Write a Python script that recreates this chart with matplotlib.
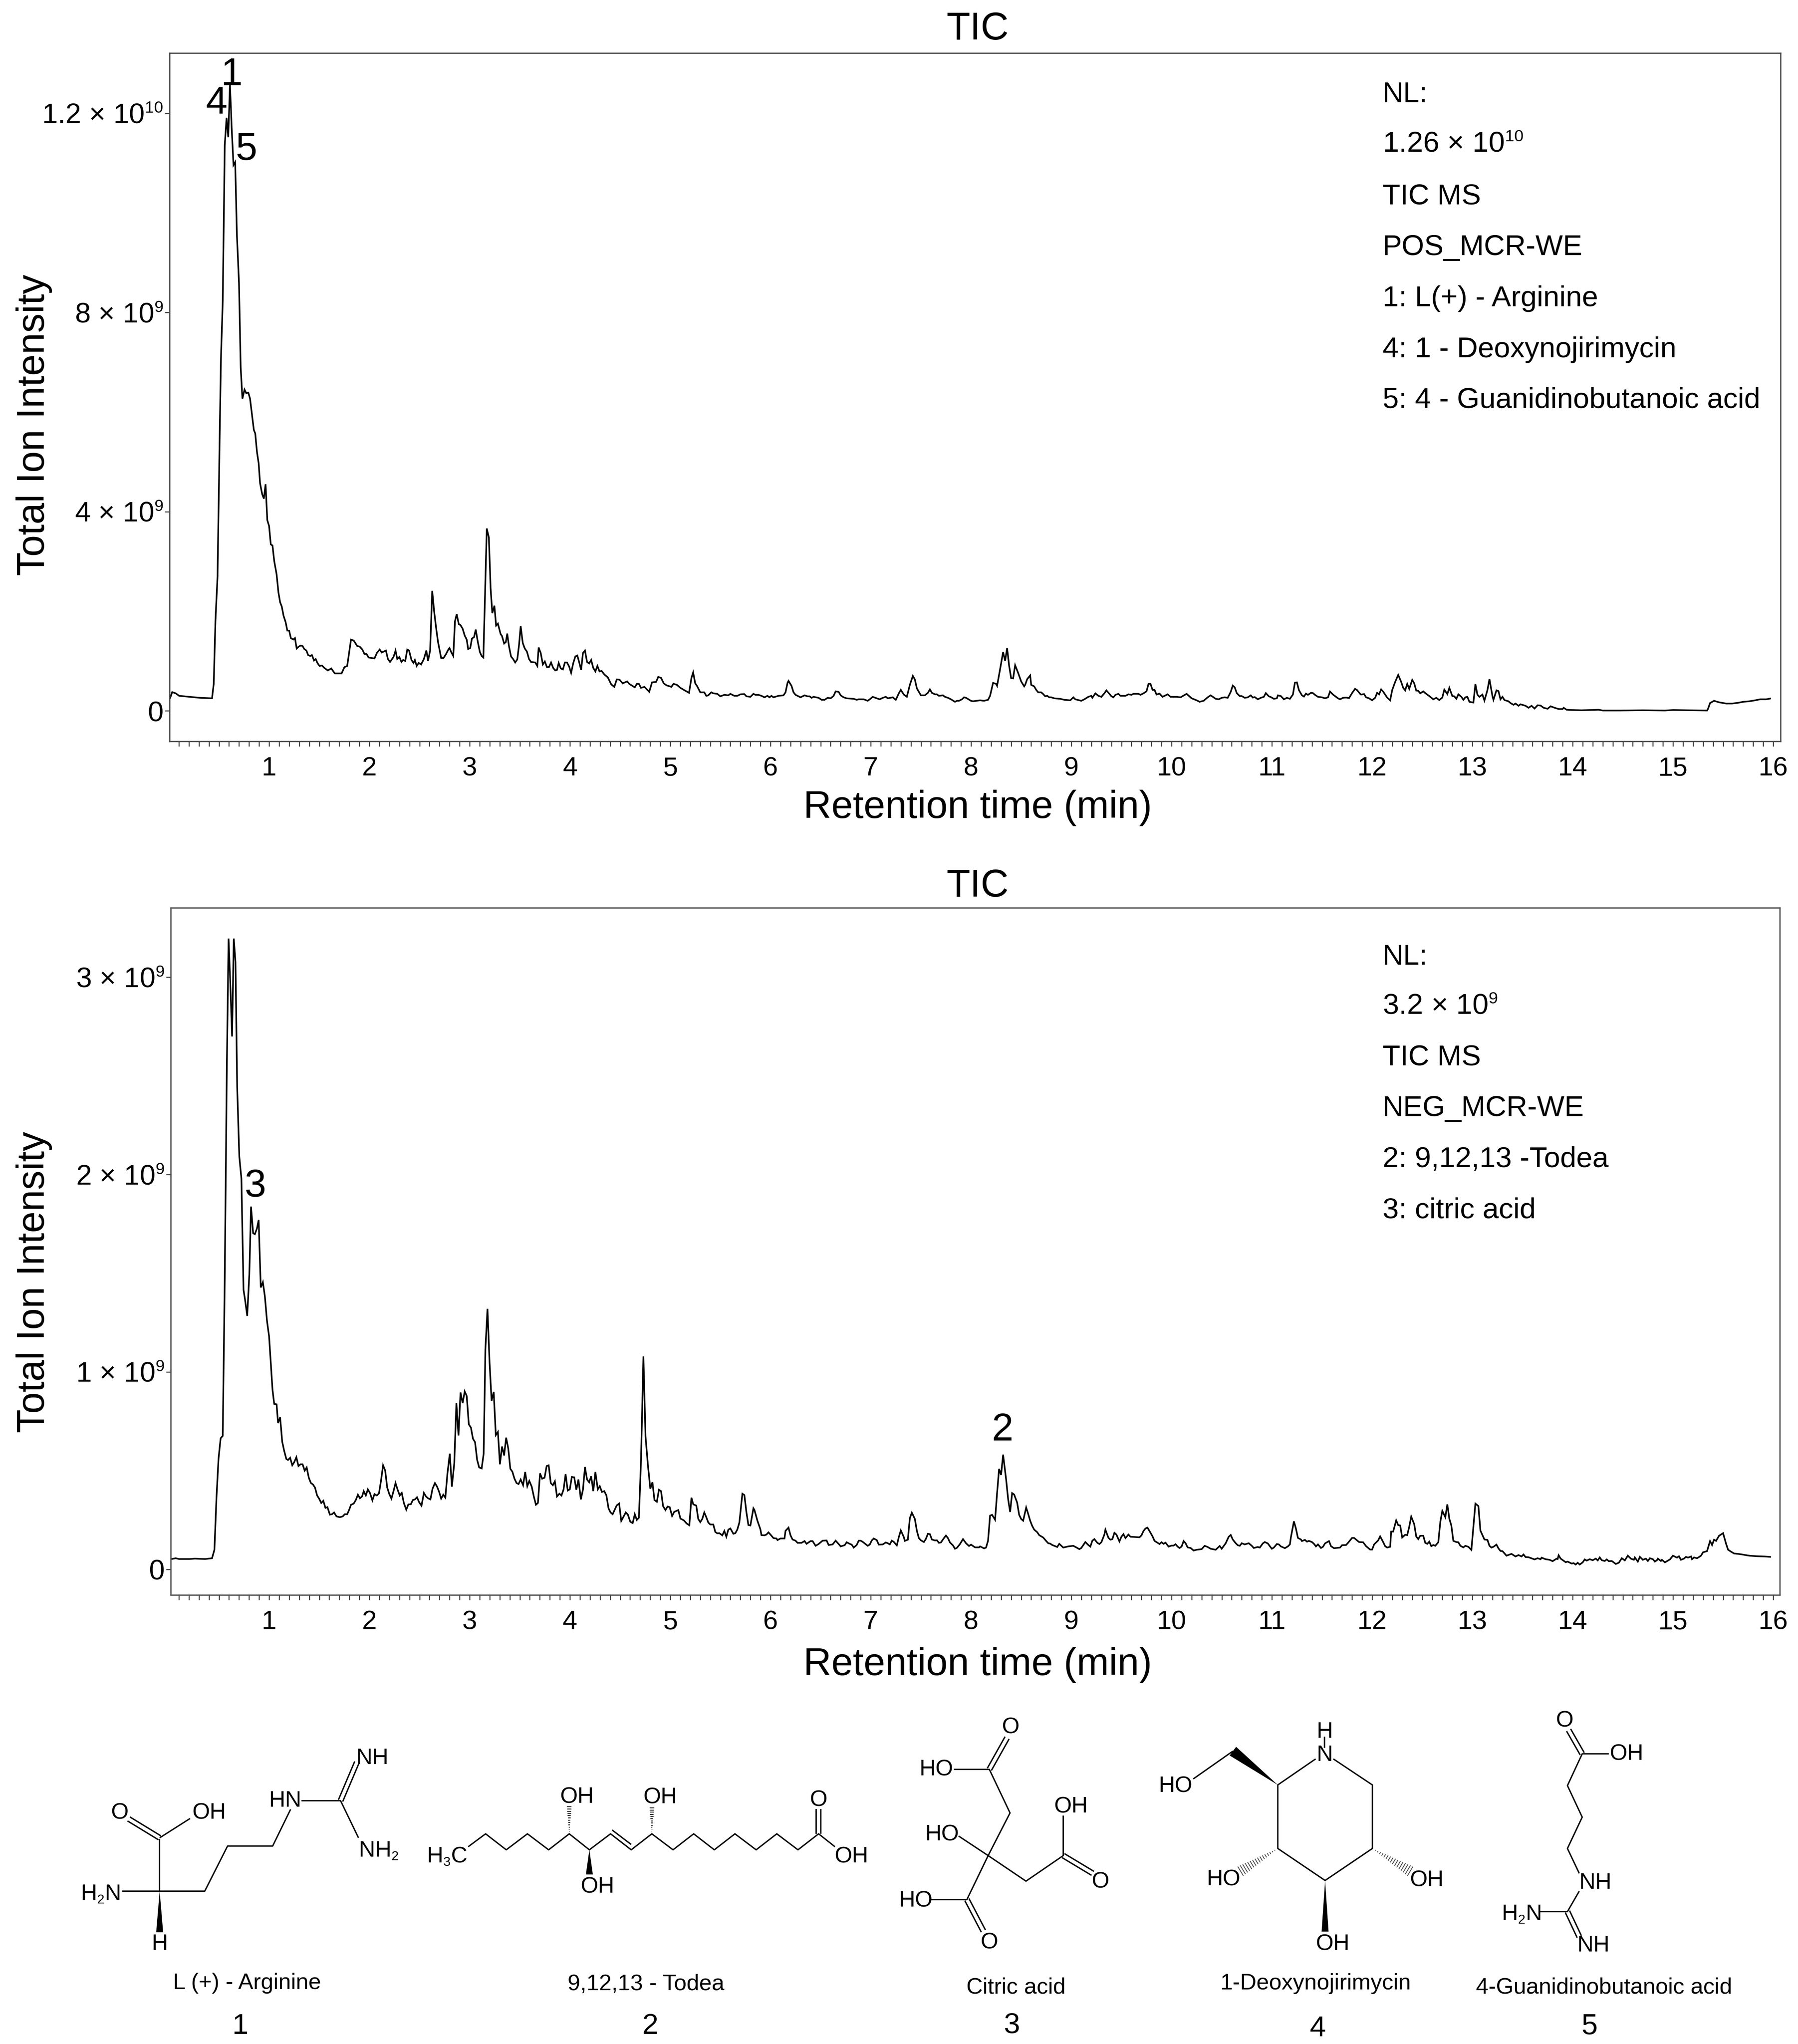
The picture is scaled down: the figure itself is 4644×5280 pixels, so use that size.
import numpy as np
import matplotlib
matplotlib.use('Agg')
import matplotlib.pyplot as plt
import matplotlib._mathtext as mathtext_internals
from matplotlib.patches import Polygon
from matplotlib.ticker import MultipleLocator

plt.rcParams['font.family'] = ['Liberation Sans', 'DejaVu Sans']
plt.rcParams['mathtext.fontset'] = 'custom'
plt.rcParams['mathtext.rm'] = 'Liberation Sans'
plt.rcParams['mathtext.default'] = 'regular'
# Superindices mas pequenos, como en la figura original
mathtext_internals.SHRINK_FACTOR = 0.58

# Trace values: (retention time in min, intensity in 1e9)
top_early = [(.014,.26),(.034,.375),(.069,.35),(.103,.30),(.207,.28),(.310,.26),(.431,.25),(.448,.54),(.465,1.80),(.486,2.70),(.507,5.46),(.520,7.07),(.538,8.23),(.558,11.36),(.576,11.91),(.593,11.52),(.610,12.59),(.627,11.71),(.645,10.96),(.662,11.02),(.679,9.57),(.700,8.59),(.717,6.89),(.734,6.27),(.755,6.45),(.772,6.38),(.793,6.39),(.810,6.27),(.848,5.64),(.862,5.57),(.879,5.20),(.896,4.97),(.910,4.57),(.931,4.35),(.948,4.26),(.965,4.55),(.982,3.83),(1.000,3.71),(1.017,3.34),(1.034,3.32),(1.051,3.01),(1.075,2.74),(1.093,2.38),(1.110,2.18),(1.127,2.09),(1.144,1.91),(1.165,1.78),(1.182,1.61),(1.200,1.61),(1.217,1.46),(1.241,1.43),(1.258,1.46),(1.275,1.25),(1.296,1.29),(1.317,1.31),(1.334,1.30),(1.351,1.24),(1.372,1.21),(1.389,1.12),(1.410,1.10),(1.427,1.12),(1.448,1.01),(1.465,1.04),(1.482,.96),(1.503,.90),(1.527,.91),(1.551,.86),(1.586,.81),(1.620,.85),(1.655,.75),(1.723,.75),(1.751,.875),(1.779,.90),(1.817,1.43),(1.844,1.41),(1.879,1.30),(1.903,1.29),(1.930,1.23),(1.951,1.14),(1.972,1.14),(1.992,1.07),(2.051,1.05),(2.075,1.16),(2.103,1.23),(2.123,1.17),(2.165,1.21),(2.185,1.04),(2.206,.98),(2.241,1.08),(2.261,1.21),(2.278,1.04),(2.299,1.08),(2.320,.98),(2.337,1.02),(2.358,1.00),(2.378,1.23),(2.396,1.21),(2.420,1.02),(2.440,.96),(2.454,1.02),(2.472,.90),(2.492,.96),(2.516,.93),(2.544,1.04),(2.568,1.21),(2.585,1.00),(2.606,1.21),(2.627,2.41),(2.647,1.98),(2.668,1.63),(2.685,1.38),(2.716,1.06),(2.740,1.06),(2.765,1.14),(2.785,1.22),(2.799,1.26),(2.816,1.18),(2.837,1.10),(2.854,1.80),(2.871,1.94),(2.892,1.74),(2.909,1.72),(2.930,1.65),(2.951,1.51),(2.971,1.43),(2.985,1.24),(3.006,1.26),(3.023,1.45),(3.044,1.48),(3.061,1.63),(3.082,1.38),(3.102,1.18),(3.120,1.10),(3.137,1.07),(3.171,3.66),(3.192,3.48),(3.209,2.47),(3.226,1.96),(3.247,2.11),(3.264,1.71),(3.282,1.75),(3.309,1.54),(3.323,1.50),(3.344,1.35),(3.361,1.38),(3.375,1.55),(3.392,1.30),(3.413,1.09),(3.433,1.04),(3.454,.97),(3.475,1.03),(3.492,1.31),(3.509,1.70),(3.530,1.36),(3.550,1.25),(3.571,1.19),(3.592,1.04),(3.612,.98),(3.654,.97),(3.675,.90),(3.688,1.27),(3.709,1.16),(3.730,.93),(3.750,.99),(3.771,.875),(3.792,.88),(3.812,.97),(3.833,.86),(3.854,.81),(3.871,.82),(3.888,.96),(3.909,.85),(3.930,.83),(3.950,.97),(3.971,.97),(3.992,.89),(4.012,.76),(4.033,.955),(4.054,1.09),(4.074,1.11),(4.095,.955),(4.112,.82),(4.130,1.16),(4.150,1.21),(4.171,.98),(4.192,.95),(4.212,1.02),(4.233,.86),(4.254,.79),(4.274,.90),(4.295,.79),(4.316,.80),(4.343,.73),(4.378,.67),(4.412,.53),(4.443,.48),(4.467,.63),(4.495,.625),(4.526,.55),(4.571,.59),(4.592,.54),(4.647,.47),(4.667,.54),(4.688,.54),(4.709,.46),(4.743,.48),(4.791,.38),(4.819,.57),(4.860,.58),(4.881,.68),(4.909,.66),(4.936,.55),(4.964,.51),(5.012,.48),(5.033,.54),(5.067,.52),(5.102,.46),(5.153,.40),(5.188,.36),(5.212,.66),(5.229,.77)]
top_mid = [(5.25,.55),(5.27,.49),(5.30,.37),(5.34,.37),(5.36,.30),(5.38,.31),(5.41,.37),(5.43,.35),(5.47,.34),(5.50,.29),(5.54,.32),(5.58,.31),(5.60,.34),(5.64,.30),(5.67,.30),(5.70,.33),(5.74,.335),(5.76,.29),(5.80,.28),(5.83,.34),(5.85,.32),(5.88,.32),(5.91,.30),(5.94,.27),(5.97,.30),(5.99,.27),(6.01,.30),(6.03,.27),(6.08,.30),(6.13,.31),(6.15,.37),(6.17,.56),(6.18,.60),(6.21,.50),(6.23,.37),(6.25,.32),(6.30,.27),(6.34,.31),(6.37,.29),(6.39,.29),(6.41,.26),(6.43,.28),(6.48,.26),(6.51,.22),(6.54,.22),(6.57,.26),(6.60,.25),(6.63,.30),(6.65,.39),(6.68,.38),(6.70,.31),(6.73,.27),(6.76,.25),(6.83,.24),(6.86,.22),(6.88,.23),(6.93,.23),(6.97,.20),(6.99,.23),(7.02,.28),(7.06,.25),(7.09,.23),(7.12,.26),(7.15,.28),(7.17,.25),(7.22,.27),(7.25,.22),(7.28,.35),(7.30,.42),(7.33,.325),(7.36,.28),(7.39,.52),(7.42,.70),(7.44,.63),(7.46,.45),(7.50,.31),(7.54,.31),(7.57,.36),(7.59,.43),(7.61,.36),(7.64,.33),(7.66,.33),(7.68,.30),(7.72,.31),(7.74,.28),(7.77,.26),(7.80,.23),(7.84,.18),(7.86,.20),(7.88,.20),(7.91,.23),(7.93,.27),(7.95,.26),(8.00,.20),(8.02,.19),(8.09,.21),(8.13,.20),(8.17,.22),(8.19,.30),(8.22,.56),(8.25,.54),(8.26,.50),(8.29,.835),(8.32,1.18),(8.34,1.00),(8.36,1.26),(8.38,.905),(8.40,.655),(8.42,.65),(8.44,.915),(8.47,.76),(8.50,.59),(8.53,.49),(8.54,.52),(8.56,.635),(8.59,.71),(8.60,.52),(8.63,.49),(8.65,.42),(8.67,.37),(8.70,.37),(8.72,.335),(8.74,.29),(8.76,.30),(8.78,.27),(8.80,.27),(8.83,.25),(8.89,.24),(8.93,.22),(8.99,.21),(9.02,.27),(9.04,.23),(9.10,.20),(9.13,.23),(9.17,.28),(9.20,.30),(9.21,.26),(9.24,.35),(9.27,.30),(9.30,.28),(9.33,.35),(9.35,.41),(9.38,.34),(9.40,.29),(9.42,.27),(9.44,.32),(9.47,.34),(9.49,.30),(9.54,.30),(9.57,.33),(9.60,.32),(9.62,.34),(9.67,.34),(9.69,.32),(9.72,.35),(9.75,.39),(9.77,.54),(9.79,.54),(9.81,.42),(9.83,.42),(9.85,.325),(9.88,.345),(9.91,.28),(9.94,.31),(9.96,.33),(9.99,.28),(10.05,.28),(10.09,.27),(10.15,.34),(10.20,.25),(10.25,.21),(10.28,.18),(10.32,.20),(10.36,.27),(10.39,.31),(10.44,.24),(10.47,.23),(10.50,.26),(10.53,.27),(10.56,.26),(10.59,.38),(10.61,.505)]
top_late = [(10.63,.47),(10.65,.355),(10.68,.295),(10.70,.295),(10.73,.26),(10.76,.27),(10.79,.31),(10.81,.265),(10.83,.275),(10.86,.23),(10.89,.26),(10.92,.28),(10.94,.355),(10.97,.29),(10.99,.275),(11.02,.24),(11.05,.25),(11.06,.31),(11.09,.295),(11.12,.23),(11.15,.26),(11.18,.24),(11.21,.325),(11.23,.565),(11.25,.57),(11.27,.415),(11.30,.31),(11.32,.285),(11.34,.345),(11.36,.32),(11.39,.36),(11.41,.355),(11.43,.32),(11.46,.28),(11.50,.27),(11.53,.25),(11.56,.27),(11.58,.385),(11.61,.325),(11.63,.295),(11.66,.25),(11.68,.23),(11.71,.26),(11.74,.265),(11.77,.255),(11.80,.355),(11.83,.44),(11.85,.415),(11.88,.34),(11.89,.325),(11.92,.335),(11.94,.27),(11.97,.25),(12.00,.21),(12.03,.26),(12.05,.36),(12.07,.33),(12.09,.43),(12.11,.385),(12.15,.265),(12.18,.21),(12.20,.415),(12.23,.58),(12.26,.72),(12.29,.58),(12.31,.46),(12.33,.41),(12.35,.54),(12.37,.44),(12.40,.62),(12.42,.55),(12.44,.405),(12.46,.40),(12.48,.35),(12.51,.39),(12.53,.355),(12.57,.295),(12.61,.23),(12.64,.26),(12.67,.215),(12.70,.265),(12.72,.425),(12.75,.335),(12.77,.46),(12.80,.295),(12.82,.29),(12.84,.24),(12.86,.33),(12.89,.28),(12.91,.22),(12.93,.27),(12.95,.28),(12.97,.18),(13.01,.165),(13.03,.535),(13.05,.325),(13.07,.28),(13.10,.325),(13.12,.205),(13.15,.415),(13.17,.635),(13.20,.295),(13.21,.22),(13.24,.41),(13.26,.395),(13.28,.23),(13.30,.28),(13.32,.215),(13.36,.19),(13.38,.155),(13.41,.12),(13.43,.145),(13.46,.10),(13.48,.13),(13.53,.10),(13.56,.06),(13.59,.10),(13.62,.045),(13.65,.11),(13.68,.105),(13.71,.06),(13.75,.04),(13.78,.09),(13.82,.06),(13.86,.035),(13.90,.035),(13.91,.06),(13.94,.02),(13.99,.015),(14.09,.01),(14.26,.02),(14.30,.005),(14.47,.005),(14.70,.01),(14.92,.005),(15.00,.015),(15.15,.01),(15.34,.005),(15.35,.04),(15.37,.155),(15.41,.20),(15.46,.17),(15.53,.145),(15.59,.145),(15.65,.16),(15.70,.18),(15.76,.19),(15.82,.21),(15.87,.23),(15.93,.23),(15.97,.245)]

bottom_early = [(.028,.052),(.069,.056),(.103,.052),(.207,.052),(.259,.054),(.362,.052),(.431,.056),(.455,.099),(.476,.369),(.496,.561),(.517,.664),(.538,.676),(.558,1.473),(.579,2.554),(.596,3.196),(.614,2.959),(.631,2.700),(.648,3.196),(.665,3.077),(.682,2.441),(.703,2.092),(.724,1.980),(.745,1.417),(.762,1.360),(.782,1.284),(.803,1.495),(.820,1.838),(.841,1.703),(.858,1.698),(.879,1.727),(.896,1.770),(.917,1.428),(.938,1.455),(.958,1.383),(.979,1.259),(1.000,1.180),(1.017,1.045),(1.034,.910),(1.051,.838),(1.075,.836),(1.089,.741),(1.110,.770),(1.131,.646),(1.151,.599),(1.172,.559),(1.189,.554),(1.210,.565),(1.231,.527),(1.251,.543),(1.272,.568),(1.293,.523),(1.313,.532),(1.334,.532),(1.355,.500),(1.375,.516),(1.396,.464),(1.417,.437),(1.437,.430),(1.458,.414),(1.479,.374),(1.499,.358),(1.520,.336),(1.541,.347),(1.562,.311),(1.582,.315),(1.606,.277),(1.627,.279),(1.648,.288),(1.672,.268),(1.706,.264),(1.734,.268),(1.755,.279),(1.779,.279),(1.799,.302),(1.817,.327),(1.844,.333),(1.865,.351),(1.886,.378),(1.906,.360),(1.927,.369),(1.944,.396),(1.965,.374),(1.985,.405),(2.006,.387),(2.030,.349),(2.051,.381),(2.075,.374),(2.096,.385),(2.116,.448),(2.137,.527),(2.158,.500),(2.178,.414),(2.199,.381),(2.220,.358),(2.241,.396),(2.261,.437),(2.282,.403),(2.303,.374),(2.323,.387),(2.344,.336),(2.368,.302),(2.389,.329),(2.413,.329),(2.434,.351),(2.454,.354),(2.475,.365),(2.496,.340),(2.520,.322),(2.544,.387),(2.565,.369),(2.585,.360),(2.609,.354),(2.630,.408),(2.654,.437),(2.675,.419),(2.696,.392),(2.716,.358),(2.737,.378),(2.758,.363),(2.778,.482),(2.802,.586),(2.823,.419),(2.847,.538),(2.868,.842),(2.889,.678),(2.909,.896),(2.930,.842),(2.951,.901),(2.971,.878),(2.992,.734),(3.013,.718),(3.033,.662),(3.054,.644),(3.075,.554),(3.095,.516),(3.120,.511),(3.140,.586),(3.157,1.113),(3.178,1.320),(3.199,1.045),(3.219,.854),(3.240,.899),(3.261,.680),(3.282,.696),(3.302,.532),(3.323,.622),(3.344,.577),(3.364,.667),(3.385,.613),(3.406,.509),(3.426,.495),(3.447,.459),(3.468,.437),(3.488,.432),(3.509,.455),(3.533,.426),(3.554,.493),(3.575,.421),(3.595,.448),(3.619,.419),(3.640,.369),(3.661,.327),(3.681,.336),(3.702,.486),(3.723,.459),(3.747,.464),(3.768,.523),(3.788,.527),(3.809,.437),(3.830,.426),(3.850,.446),(3.871,.369),(3.895,.383),(3.916,.374),(3.937,.405),(3.957,.482),(3.978,.399),(3.999,.405),(4.019,.468),(4.043,.466),(4.064,.403),(4.085,.455),(4.109,.354),(4.130,.403),(4.150,.518),(4.171,.455),(4.192,.441),(4.212,.471),(4.233,.396),(4.254,.493),(4.278,.405),(4.298,.421),(4.319,.392),(4.343,.396),(4.364,.374),(4.385,.309),(4.405,.288),(4.426,.279),(4.447,.302),(4.467,.324),(4.491,.333),(4.512,.245),(4.536,.268),(4.557,.288),(4.578,.277),(4.602,.241),(4.626,.234),(4.647,.279),(4.667,.250),(4.688,.261),(4.709,.550),(4.733,1.079),(4.754,.673),(4.778,.527),(4.802,.408),(4.823,.441),(4.843,.351),(4.867,.342),(4.888,.403),(4.909,.396),(4.929,.320),(4.953,.300),(4.974,.318),(4.995,.315),(5.019,.270),(5.040,.291),(5.081,.300),(5.102,.257),(5.136,.248),(5.164,.232),(5.191,.223),(5.212,.363)]
bottom_mid = [(5.23,.329),(5.26,.323),(5.28,.255),(5.30,.239),(5.32,.255),(5.34,.288),(5.36,.264),(5.38,.237),(5.40,.227),(5.43,.227),(5.45,.189),(5.47,.182),(5.49,.183),(5.52,.172),(5.54,.194),(5.56,.165),(5.58,.201),(5.60,.207),(5.63,.180),(5.65,.183),(5.67,.202),(5.69,.237),(5.72,.383),(5.74,.376),(5.76,.290),(5.78,.224),(5.80,.222),(5.83,.309),(5.84,.301),(5.87,.246),(5.90,.202),(5.91,.173),(5.94,.172),(5.96,.176),(5.98,.187),(6.00,.176),(6.03,.158),(6.06,.156),(6.07,.148),(6.10,.156),(6.14,.156),(6.15,.195),(6.18,.211),(6.20,.172),(6.22,.151),(6.25,.145),(6.27,.134),(6.31,.134),(6.34,.143),(6.36,.129),(6.40,.143),(6.42,.143),(6.45,.119),(6.48,.128),(6.52,.145),(6.56,.146),(6.58,.123),(6.62,.126),(6.65,.145),(6.68,.128),(6.70,.116),(6.74,.122),(6.76,.137),(6.79,.129),(6.81,.125),(6.83,.110),(6.86,.123),(6.88,.145),(6.90,.145),(6.92,.139),(6.97,.119),(6.99,.125),(7.01,.146),(7.03,.156),(7.06,.148),(7.08,.125),(7.12,.126),(7.15,.136),(7.17,.132),(7.19,.126),(7.21,.145),(7.23,.139),(7.26,.121),(7.28,.163),(7.30,.197),(7.33,.163),(7.34,.144),(7.37,.150),(7.39,.259),(7.41,.287),(7.44,.255),(7.46,.195),(7.48,.158),(7.50,.147),(7.53,.138),(7.55,.154),(7.57,.180),(7.59,.178),(7.61,.151),(7.64,.146),(7.66,.147),(7.68,.134),(7.70,.136),(7.73,.158),(7.75,.171),(7.77,.158),(7.79,.136),(7.82,.121),(7.84,.104),(7.86,.109),(7.89,.128),(7.92,.153),(7.95,.132),(7.98,.118),(8.00,.125),(8.04,.111),(8.08,.111),(8.09,.116),(8.13,.106),(8.15,.110),(8.17,.145),(8.19,.272),(8.21,.276),(8.24,.251),(8.26,.386),(8.28,.509),(8.30,.478),(8.32,.581),(8.35,.456),(8.37,.356),(8.39,.290),(8.41,.386),(8.43,.379),(8.46,.338),(8.48,.276),(8.50,.255),(8.52,.246),(8.55,.313),(8.57,.281),(8.59,.246),(8.61,.220),(8.63,.201),(8.66,.188),(8.68,.173),(8.72,.161),(8.75,.143),(8.77,.132),(8.79,.130),(8.81,.123),(8.86,.113),(8.88,.129),(8.92,.110),(8.97,.116),(9.02,.119),(9.06,.108),(9.08,.102),(9.10,.108),(9.14,.138),(9.17,.123),(9.19,.115),(9.21,.145),(9.23,.153),(9.26,.134),(9.28,.128),(9.30,.137),(9.33,.176),(9.34,.201),(9.37,.160),(9.39,.150),(9.41,.153),(9.43,.185),(9.45,.176),(9.48,.141),(9.50,.165),(9.52,.178),(9.54,.158),(9.57,.176),(9.59,.165),(9.68,.162),(9.70,.172),(9.72,.194),(9.74,.207),(9.76,.211),(9.79,.185),(9.81,.167),(9.83,.144),(9.88,.128),(9.90,.137),(9.92,.129),(9.94,.135),(9.97,.115),(10.00,.120),(10.02,.120),(10.04,.127),(10.06,.115),(10.08,.108),(10.10,.115),(10.12,.143),(10.14,.132),(10.16,.111),(10.19,.108),(10.22,.095),(10.25,.099),(10.30,.102),(10.33,.119),(10.36,.113),(10.39,.104),(10.44,.099),(10.48,.118),(10.50,.104),(10.54,.132),(10.57,.165),(10.59,.174)]
bottom_late = [(10.61,.151),(10.64,.132),(10.66,.122),(10.68,.119),(10.70,.132),(10.73,.126),(10.77,.132),(10.80,.119),(10.82,.108),(10.86,.113),(10.88,.110),(10.91,.131),(10.93,.138),(10.96,.131),(10.98,.117),(11.00,.104),(11.02,.110),(11.05,.128),(11.07,.126),(11.09,.116),(11.13,.107),(11.16,.116),(11.18,.126),(11.19,.162),(11.22,.243),(11.24,.207),(11.26,.159),(11.29,.151),(11.30,.143),(11.33,.149),(11.35,.140),(11.37,.144),(11.40,.138),(11.42,.129),(11.44,.116),(11.46,.126),(11.49,.108),(11.51,.114),(11.53,.131),(11.57,.143),(11.59,.117),(11.62,.107),(11.68,.110),(11.70,.122),(11.74,.123),(11.76,.134),(11.80,.159),(11.82,.159),(11.87,.138),(11.91,.137),(11.94,.117),(11.98,.100),(12.00,.100),(12.02,.126),(12.06,.146),(12.08,.167),(12.11,.138),(12.13,.117),(12.15,.110),(12.18,.114),(12.19,.191),(12.21,.191),(12.24,.248),(12.26,.224),(12.28,.222),(12.30,.161),(12.33,.175),(12.35,.173),(12.37,.215),(12.39,.267),(12.42,.228),(12.44,.166),(12.46,.153),(12.48,.170),(12.51,.170),(12.53,.134),(12.55,.129),(12.57,.140),(12.59,.117),(12.61,.123),(12.63,.119),(12.66,.137),(12.68,.240),(12.70,.296),(12.73,.264),(12.75,.329),(12.77,.256),(12.79,.222),(12.81,.144),(12.84,.138),(12.86,.137),(12.88,.119),(12.91,.111),(12.93,.119),(12.96,.114),(12.99,.098),(13.03,.333),(13.06,.320),(13.08,.196),(13.12,.151),(13.15,.149),(13.17,.119),(13.19,.110),(13.21,.114),(13.24,.125),(13.26,.106),(13.28,.093),(13.30,.092),(13.34,.069),(13.39,.078),(13.43,.065),(13.46,.072),(13.49,.065),(13.51,.075),(13.53,.062),(13.56,.061),(13.62,.050),(13.65,.056),(13.68,.051),(13.69,.059),(13.73,.051),(13.77,.048),(13.80,.041),(13.84,.054),(13.85,.052),(13.86,.071),(13.88,.054),(13.93,.036),(13.95,.039),(13.99,.029),(14.01,.031),(14.03,.024),(14.05,.033),(14.07,.024),(14.10,.035),(14.12,.050),(14.14,.044),(14.17,.051),(14.20,.046),(14.23,.054),(14.25,.045),(14.27,.060),(14.29,.046),(14.32,.042),(14.34,.050),(14.36,.041),(14.39,.042),(14.43,.027),(14.46,.033),(14.49,.056),(14.52,.045),(14.55,.069),(14.58,.054),(14.61,.048),(14.62,.060),(14.65,.039),(14.67,.063),(14.70,.048),(14.73,.054),(14.75,.042),(14.77,.056),(14.80,.051),(14.82,.039),(14.84,.046),(14.85,.054),(14.88,.042),(14.89,.048),(14.92,.035),(14.95,.044),(14.97,.050),(15.00,.069),(15.04,.059),(15.06,.066),(15.08,.048),(15.11,.054),(15.13,.063),(15.15,.059),(15.18,.065),(15.19,.051),(15.21,.060),(15.24,.056),(15.26,.062),(15.28,.069),(15.30,.086),(15.34,.092),(15.37,.143),(15.39,.123),(15.41,.150),(15.43,.144),(15.46,.170),(15.50,.183),(15.53,.129),(15.55,.099),(15.58,.089),(15.61,.080),(15.65,.078),(15.69,.075),(15.76,.069),(15.84,.066),(15.91,.065),(15.97,.063)]

x_ticks = list(range(1, 17))
top_yticks = [0, 4, 8, 12]
top_ylabels = ['0', '4 × 10$^{9}$', '8 × 10$^{9}$', '1.2 × 10$^{10}$']
bottom_yticks = [0, 1, 2, 3]
bottom_ylabels = ['0', '1 × 10$^{9}$', '2 × 10$^{9}$', '3 × 10$^{9}$']
top_notes = ['NL:', '1.26 × 10$^{10}$', 'TIC MS', 'POS_MCR-WE', '1: L(+) - Arginine',
             '4: 1 - Deoxynojirimycin', '5: 4 - Guanidinobutanoic acid']
bottom_notes = ['NL:', '3.2 × 10$^{9}$', 'TIC MS', 'NEG_MCR-WE', '2: 9,12,13 -Todea', '3: citric acid']

W, H = 4644, 5280
DPI = 300
fig = plt.figure(figsize=(W / DPI, H / DPI), dpi=DPI, facecolor='white')


def make_panel(left, top, right, bottom, segments, yticks, ylabels, ylim):
    ax = fig.add_axes([left / W, 1 - bottom / H, (right - left) / W, (bottom - top) / H])
    pts = np.array(segments[0] + segments[1] + segments[2])
    ax.plot(pts[:, 0], pts[:, 1], color='black', lw=1.0, solid_joinstyle='miter')
    # El eje x va de 695 px (1 min) a 4580 px (16 min)
    ax.set_xlim(1 + (left - 695) / 259, 1 + (right - 695) / 259)
    ax.set_ylim(*ylim)
    ax.set_xticks(x_ticks)
    ax.xaxis.set_minor_locator(MultipleLocator(0.1))
    ax.set_yticks(yticks)
    ax.set_yticklabels(ylabels)
    ax.tick_params(axis='x', which='both', length=3.2, width=0.6, color='#333333',
                   labelsize=16.5, pad=6)
    ax.tick_params(axis='y', length=3.0, width=0.6, color='#333333', labelsize=17.5, pad=1)
    for spine in ax.spines.values():
        spine.set_color('#4d4d4d')
        spine.set_linewidth(0.8)
    return ax


make_panel(438, 137, 4599, 1915, (top_early, top_mid, top_late),
           top_yticks, top_ylabels, (-0.614, 13.21))
make_panel(441, 2345, 4597, 4120, (bottom_early, bottom_mid, bottom_late),
           bottom_yticks, bottom_ylabels, (-0.13, 3.352))

# Capa en pixeles para textos y estructuras
ov = fig.add_axes([0, 0, 1, 1], facecolor='none')
ov.set_xlim(0, W)
ov.set_ylim(H, 0)
ov.axis('off')


def txt(x, y, s, size, **kw):
    kw.setdefault('ha', 'center')
    ov.text(x, y + 5, s, fontsize=size, va='center', color='black', **kw)


for y in (71, 2285):
    txt(2525, y, 'TIC', 24)
for y in (2082, 4296):
    txt(2525, y, 'Retention time (min)', 24)
for y in (1093, 3307):
    txt(88, y, 'Total Ion Intensity', 24, rotation=90)

for s, y in zip(top_notes, (240, 368, 503, 635, 766, 898, 1029)):
    txt(3571, y, s, 18, ha='left')
for s, y in zip(bottom_notes, (2467, 2595, 2727, 2859, 2990, 3122)):
    txt(3571, y, s, 18, ha='left')

for s, x, y in (('1', 598, 189), ('4', 560, 264), ('5', 637, 382), ('3', 659, 3060), ('2', 2590, 3690)):
    txt(x, y, s, 24)


# Dibujo de las estructuras quimicas
def left_px(x, y):
    return 150 + x / 0.7127, 4380 + y / 1.742


def right_px(x, y):
    return 2250 + x / 0.655, 4380 + y / 1.742


def chain(conv, pts):
    xy = np.array([conv(*p) for p in pts])
    ov.plot(xy[:, 0], xy[:, 1], color='black', lw=0.85, solid_capstyle='butt')


def double(conv, p, q, gap=6):
    a = np.array(conv(*p))
    b = np.array(conv(*q))
    n = np.array([-(b - a)[1], (b - a)[0]]) / np.hypot(*(b - a)) * gap
    for s in (-1, 1):
        ov.plot([a[0] + s * n[0], b[0] + s * n[0]], [a[1] + s * n[1], b[1] + s * n[1]],
                color='black', lw=0.85, solid_capstyle='butt')


def wedge(conv, tip, base, half=9):
    a = np.array(conv(*tip))
    b = np.array(conv(*base))
    n = np.array([-(b - a)[1], (b - a)[0]]) / np.hypot(*(b - a)) * half
    ov.add_patch(Polygon([a, b + n, b - n], closed=True, color='black', lw=0))


def hashed(conv, tip, base, half=11, count=12, color='black'):
    a = np.array(conv(*tip))
    b = np.array(conv(*base))
    n = np.array([-(b - a)[1], (b - a)[0]]) / np.hypot(*(b - a)) * half
    for f in np.linspace(0.08, 1, count):
        c = a + (b - a) * f
        ov.plot([c[0] - n[0] * f, c[0] + n[0] * f], [c[1] - n[1] * f, c[1] + n[1] * f],
                color=color, lw=0.5, solid_capstyle='butt')


def atom(conv, x, y, s):
    px, py = conv(x, y)
    txt(px, py - 3, s, 14)


# 1: L(+)-Arginina
chain(left_px, [(118, 880), (270, 880), (312, 677), (395, 677), (428, 512)])
chain(left_px, [(187, 645), (187, 880)])
chain(left_px, [(187, 640), (243, 553)])
double(left_px, (187, 640), (130, 555))
wedge(left_px, (187, 880), (187, 1065))
chain(left_px, [(448, 473), (520, 473), (553, 640)])
double(left_px, (520, 473), (550, 300))
atom(left_px, 113, 525, 'O')
atom(left_px, 278, 525, 'OH')
atom(left_px, 78, 890, 'H$_{2}$N')
atom(left_px, 187, 1115, 'H')
atom(left_px, 418, 470, 'HN')
atom(left_px, 578, 278, 'NH')
atom(left_px, 590, 695, 'NH$_{2}$')

# 2: 9,12,13-Todea
chain(left_px, [(755, 680), (787, 622), (825, 694), (864, 622), (903, 694), (941, 622), (978, 694),
                (1017, 622), (1055, 694), (1093, 622), (1132, 694), (1170, 622), (1208, 694),
                (1246, 622), (1285, 694), (1323, 622), (1362, 694), (1400, 622), (1430, 680)])
chain(left_px, [(1020, 605), (1055, 670)])
double(left_px, (1400, 622), (1400, 510))
hashed(left_px, (941, 622), (941, 500), half=6)
hashed(left_px, (1093, 622), (1093, 505), half=6)
wedge(left_px, (978, 694), (978, 805))
atom(left_px, 716, 722, 'H$_{3}$C')
atom(left_px, 955, 453, 'OH')
atom(left_px, 1108, 455, 'OH')
atom(left_px, 993, 858, 'OH')
atom(left_px, 1400, 468, 'O')
atom(left_px, 1460, 722, 'OH')

# 3: Acido citrico
chain(right_px, [(140, 332), (200, 332), (235, 528), (198, 720), (162, 918), (100, 918)])
chain(right_px, [(148, 632), (198, 720), (262, 835), (325, 720), (325, 540)])
double(right_px, (200, 332), (230, 190))
double(right_px, (325, 720), (375, 800))
double(right_px, (162, 918), (190, 1060))
atom(right_px, 236, 140, 'O')
atom(right_px, 110, 330, 'HO')
atom(right_px, 338, 498, 'OH')
atom(right_px, 120, 622, 'HO')
atom(right_px, 388, 835, 'O')
atom(right_px, 75, 920, 'HO')
atom(right_px, 200, 1108, 'O')

# 4: 1-Desoxinojirimicina
chain(right_px, [(752, 285), (688, 402), (688, 688), (768, 832), (848, 688), (848, 402), (782, 285)])
chain(right_px, [(767, 185), (767, 235)])
chain(right_px, [(612, 250), (545, 375)])
wedge(right_px, (688, 402), (612, 250), half=14)
hashed(right_px, (688, 688), (625, 790), half=14, count=16, color='#444444')
hashed(right_px, (848, 688), (912, 790), half=14, count=16, color='#444444')
wedge(right_px, (768, 832), (768, 1062))
atom(right_px, 767, 265, 'N')
atom(right_px, 767, 160, 'H')
atom(right_px, 515, 405, 'HO')
atom(right_px, 596, 825, 'HO')
atom(right_px, 940, 828, 'OH')
atom(right_px, 781, 1115, 'OH')

# 5: Acido 4-guanidinobutanoico
chain(right_px, [(1248, 262), (1203, 262), (1178, 405), (1203, 547), (1178, 688), (1198, 800)])
chain(right_px, [(1198, 880), (1178, 972), (1130, 972)])
double(right_px, (1203, 262), (1180, 155))
double(right_px, (1178, 972), (1198, 1085))
atom(right_px, 1173, 110, 'O')
atom(right_px, 1278, 260, 'OH')
atom(right_px, 1225, 840, 'NH')
atom(right_px, 1100, 980, 'H$_{2}$N')
atom(right_px, 1222, 1122, 'NH')

# Nombres y numeros
for s, x, y in (('L (+) - Arginine', 638, 5118), ('9,12,13 - Todea', 1668, 5120), ('Citric acid', 2624, 5129),
                ('1-Deoxynojirimycin', 3398, 5119), ('4-Guanidinobutanoic acid', 4143, 5129)):
    txt(x, y, s, 14)
for s, x, y in (('1', 620, 5230), ('2', 1679, 5230), ('3', 2613, 5228), ('4', 3403, 5235), ('5', 4106, 5230)):
    txt(x, y, s, 18)

fig.savefig('out.png', dpi=DPI)
